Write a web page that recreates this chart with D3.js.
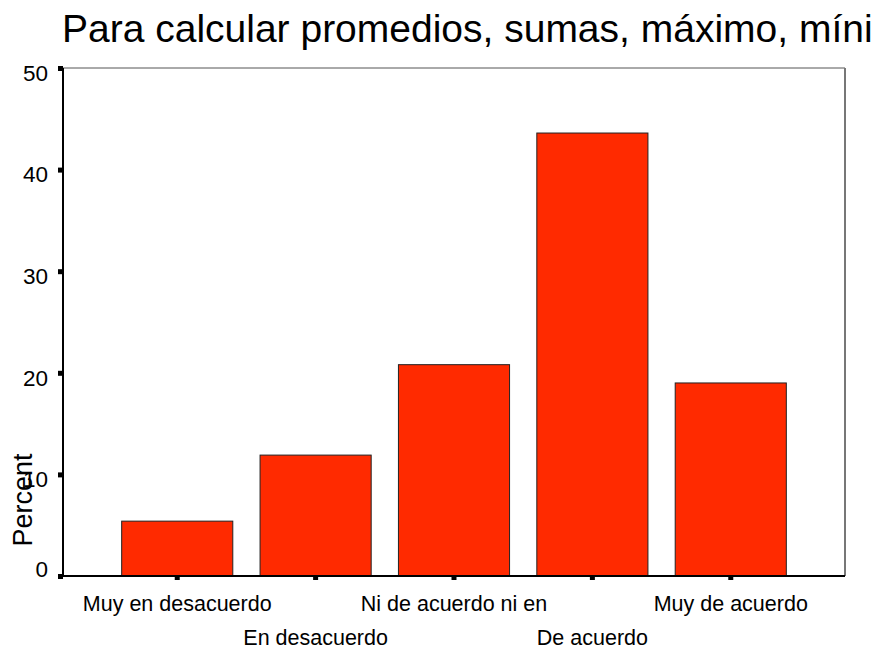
<!DOCTYPE html>
<html>
<head>
<meta charset="utf-8">
<script src="https://cdn.jsdelivr.net/npm/d3@7"></script>
<style>
  body { margin: 0; background: #fff; }
  svg { display: block; font-family: Arial, "Liberation Sans", sans-serif; }
</style>
</head>
<body>
<div id="chart-area"></div>
<script>
// data
var categories = ["Muy en desacuerdo", "En desacuerdo", "Ni de acuerdo ni en", "De acuerdo", "Muy de acuerdo"]
var percents = [5.4, 11.9, 20.8, 43.6, 19.0]
var yTicks = [0, 10, 20, 30, 40, 50]
var title = "Para calcular promedios, sumas, máximo, míni"

var svgWidth = 885
var svgHeight = 650

//plot box
var margin = { top: 68, right: 40, bottom: 74, left: 63 }
var x0 = margin.left, x1 = svgWidth - margin.right
var y0 = svgHeight - margin.bottom, y1 = margin.top

var svg = d3.select("#chart-area")
    .append("svg")
    .attr("width", svgWidth)
    .attr("height", svgHeight)

var yScale = d3.scaleLinear()
    .domain([0, 50])
    .range([y0, y1])

var xScale = d3.scaleBand()
    .domain(categories)
    .range([x0, x1])
    .paddingInner(0.197)
    .paddingOuter(0.424)

// title
svg.append("text")
    .attr("x", 62)
    .attr("y", 42)
    .attr("font-size", "39px")
    .attr("fill", "#000")
    .text(title)

// frame top/right
svg.append("line")
    .attr("x1", x0).attr("x2", x1)
    .attr("y1", y1).attr("y2", y1)
    .attr("stroke", "#555").attr("stroke-width", 1)
svg.append("line")
    .attr("x1", x1).attr("x2", x1)
    .attr("y1", y1).attr("y2", y0)
    .attr("stroke", "#777").attr("stroke-width", 2)

// bars
svg.selectAll("rect.bar")
    .data(percents)
    .enter()
    .append("rect")
    .attr("class", "bar")
    .attr("x", (d, i) => xScale(categories[i]))
    .attr("y", d => yScale(d))
    .attr("width", xScale.bandwidth())
    .attr("height", d => y0 - yScale(d))
    .attr("fill", "#ff2a00")
    .attr("stroke", "#222")
    .attr("stroke-width", 1)

// y axis
var leftAxis = d3.axisLeft(yScale)
    .tickValues(yTicks)
    .tickSize(0)
    .tickPadding(15)

var yAxis = svg.append("g")
    .attr("transform", "translate(" + x0 + ",0)")
    .call(leftAxis)
yAxis.select(".domain").remove()
yAxis.selectAll("text")
    .attr("font-size", "22.5px")
    .attr("font-family", "Arial, 'Liberation Sans', sans-serif")
    .attr("fill", "#000")
    .attr("dy", "0.32em")
    .attr("y", d => d == 0 ? -7 : 5)

yAxis.selectAll(".tick")
    .append("rect")
    .attr("x", -5).attr("y", -2.5)
    .attr("width", 5).attr("height", 5)
    .attr("fill", "#000")

svg.append("line")
    .attr("x1", x0).attr("x2", x0)
    .attr("y1", y1).attr("y2", y0 + 1)
    .attr("stroke", "#000").attr("stroke-width", 2)

// x axis
var botAxis = d3.axisBottom(xScale)
    .tickSize(0)
    .tickPadding(0)

var xAxis = svg.append("g")
    .attr("transform", "translate(0," + y0 + ")")
    .call(botAxis)
xAxis.select(".domain").remove()
xAxis.selectAll("text")
    .attr("font-size", "21.5px")
    .attr("font-family", "Arial, 'Liberation Sans', sans-serif")
    .attr("fill", "#000")
    .attr("dy", 0)
    .attr("y", (d, i) => i % 2 == 0 ? 35 : 69)

xAxis.selectAll(".tick")
    .append("rect")
    .attr("x", -2.5).attr("y", 0)
    .attr("width", 5).attr("height", 4)
    .attr("fill", "#000")

svg.append("line")
    .attr("x1", x0 - 1).attr("x2", x1)
    .attr("y1", y0).attr("y2", y0)
    .attr("stroke", "#000").attr("stroke-width", 2)

// y label
svg.append("text")
    .attr("transform", "translate(32,500) rotate(-90)")
    .attr("text-anchor", "middle")
    .attr("font-size", "27px")
    .attr("fill", "#000")
    .text("Percent")
</script>
</body>
</html>
